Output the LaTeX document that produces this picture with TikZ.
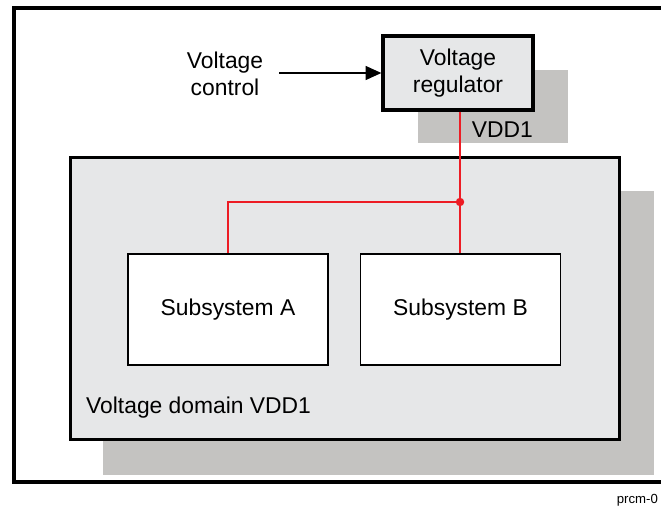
\documentclass[tikz,border=0pt]{standalone}
\usepackage{fontspec}
\setmainfont{Liberation Sans}
\usepackage{tikz}
\usetikzlibrary{arrows.meta, positioning}

\definecolor{boxgray}{HTML}{E6E7E8}
\definecolor{shadowgray}{HTML}{C4C3C1}
\definecolor{wirered}{HTML}{ED1C24}

\begin{document}
\begin{tikzpicture}[
        x=0.02cm, y=-0.02cm,
        font=\fontsize{13}{15}\selectfont,
        frame/.style={draw, line width=2.3pt},
        shadow/.style={fill=shadowgray},
        regbox/.style={rectangle, draw, line width=1.9pt, fill=boxgray, minimum width=3cm, minimum height=1.48cm, align=center},
        domainbox/.style={rectangle, draw, line width=1.7pt, fill=boxgray, minimum width=11cm, minimum height=5.66cm},
        subbox/.style={rectangle, draw, line width=1.1pt, fill=white, minimum width=4cm, minimum height=2.22cm},
        wire/.style={draw=wirered, line width=0.7pt},
        arrow/.style={-{Triangle[length=9pt, width=8pt]}, line width=0.7pt}
    ]
    \useasboundingbox (0,0) rectangle (661,510);
    \clip (0,0) rectangle (661,510);

    % Outer frame
    \draw[frame] (14,8) rectangle (720,482);

    % Shadows
    \fill[shadow] (418,70) rectangle (568,143);
    \fill[shadow] (103,191) rectangle (654,475);

    % Nodes
    \node[regbox] (reg) at (458,73) {Voltage\\regulator};
    \node[anchor=east] (vdd) at (539,130) {VDD1};
    \node[domainbox] (domain) at (345,298.5) {};
    \node[anchor=west] (domlabel) at (80,408) {Voltage domain VDD1};
    \node[subbox] (subA) at (228,309.5) {Subsystem A};
    \node[subbox] (subB) at (460.5,309.5) {Subsystem B};
    \node[align=center] (ctrl) at (225,74) {Voltage\\control};
    \node[anchor=east, inner sep=1pt, font=\fontsize{7.5}{9}\selectfont] (fig) at (660,500) {prcm-0};

    % Supply lines
    \coordinate (jn) at (460,202);
    \draw[wire] (reg.south -| jn) -- (subB.north -| jn);
    \draw[wire] (jn) -| (subA.north);
    \fill[wirered] (jn) circle (2.4pt);

    % Control input
    \draw[arrow] ([xshift=0.2cm]ctrl.east |- reg.west) -- (reg.west);

\end{tikzpicture}
\end{document}
